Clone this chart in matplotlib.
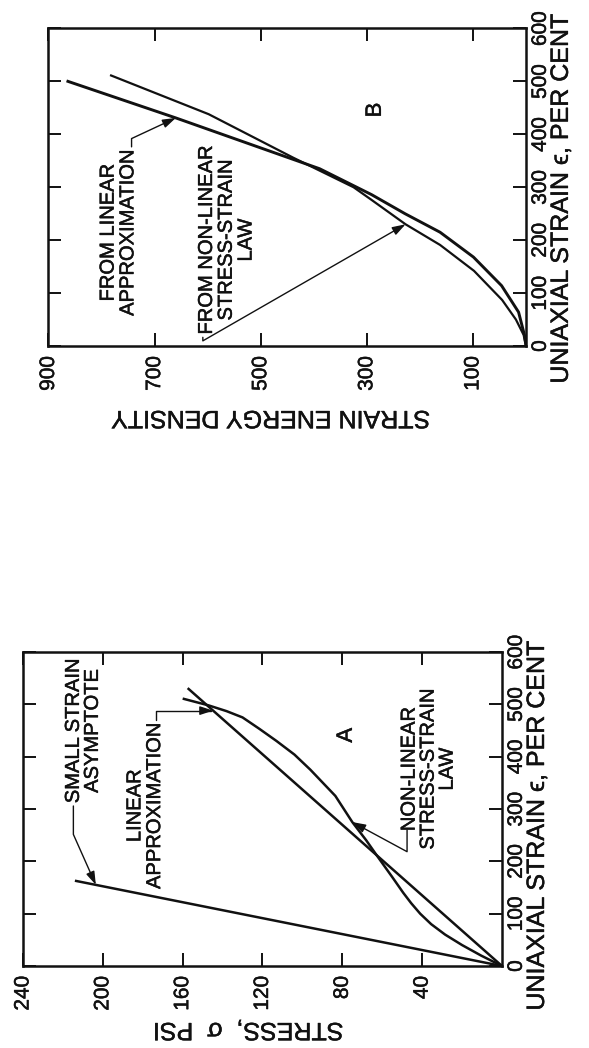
import matplotlib
matplotlib.use("Agg")
import matplotlib.pyplot as plt
import matplotlib.patheffects as pe
from matplotlib.text import Text

plt.rcParams['font.family'] = ['Liberation Sans', 'DejaVu Sans']
plt.rcParams['axes.linewidth'] = 1.8

# ---- axis ticks ----
strain_ticks = [0, 100, 200, 300, 400, 500, 600]
stress_ticks = [40, 80, 120, 160, 200, 240]
energy_ticks = [100, 300, 500, 700, 900]

# ---- panel A: stress (psi) vs uniaxial strain (per cent) ----
asym_strain = [0, 163]
asym_stress = [0, 214]

lin_strain = [0, 531]
lin_stress = [0, 157.5]

nl_strain = [0, 20, 40, 60, 80, 100, 120, 140, 170, 210, 240, 275, 325,
             375, 404, 430, 453, 475, 487, 498, 511]
nl_stress = [0, 10.5, 20, 28.5, 35.5, 41, 45.5, 49.5, 55, 62.5, 68, 75, 83.5,
             96, 104, 113, 121.5, 130, 138, 147, 160]

# ---- panel B: strain energy density vs uniaxial strain (per cent) ----
lin_e_strain = [0, 21, 64, 114, 168, 215, 250, 286, 335, 431, 501]
lin_energy = [0, 3, 14, 46, 99, 162, 228, 291, 389, 660, 866]

nl_e_strain = [0, 21, 50, 87, 142, 191, 230, 276, 300, 356, 438, 512]
nl_energy = [0, 4.5, 19, 45, 98, 162, 227, 291, 325, 439, 598, 784]

LW = 1.8
TICK_FS = 15
LABEL_FS = 18
NOTE_FS = 14.5
INK = '#111111'

fig = plt.figure(figsize=(5.89, 10.48), dpi=100)
ax_b = fig.add_axes([0.08234, 0.66985, 0.81070, 0.30296])
ax_a = fig.add_axes([0.03905, 0.07824, 0.81324, 0.29962])


def style_axes(ax, xticks, xmax):
    # horizontal axis runs from high to low, vertical axis is strain
    ax.set_xlim(xmax, 0)
    ax.set_ylim(0, 600)
    ax.set_xticks(xticks, labels=[str(t) for t in xticks], rotation=90,
                  ha='center', va='top', fontsize=TICK_FS)
    ax.set_yticks(strain_ticks, labels=[str(t) for t in strain_ticks],
                  rotation=90, ha='left', va='center', fontsize=TICK_FS)
    ax.tick_params(axis='both', which='both', direction='in', length=9.5,
                   width=1.4, top=True, bottom=True, left=True, right=True,
                   colors=INK)
    ax.tick_params(axis='x', pad=7, labelbottom=True, labeltop=False)
    ax.tick_params(axis='y', pad=3.5, labelleft=False, labelright=True)
    ax.yaxis.set_label_position('right')
    ax.set_ylabel("UNIAXIAL STRAIN \u03f5, PER CENT", rotation=90,
                  fontsize=LABEL_FS, ha='center', va='center')
    for s in ax.spines.values():
        s.set_color(INK)


def arrow(conn, relpos):
    return dict(arrowstyle='-|>,head_length=0.55,head_width=0.18',
                connectionstyle=conn, relpos=relpos, patchA=None,
                shrinkA=2, shrinkB=0, lw=1.0, color=INK)


# ---------------- panel A ----------------
style_axes(ax_a, stress_ticks, 240)
ax_a.yaxis.set_label_coords(1.073, 0.446)
ax_a.set_xlabel("STRESS,  \u03c3  PSI", rotation=180, fontsize=LABEL_FS,
                ha='center', va='center')
ax_a.xaxis.set_label_coords(0.47, -0.204)

ax_a.plot(asym_stress, asym_strain, color=INK, lw=LW, solid_capstyle='butt')
ax_a.plot(lin_stress, lin_strain, color=INK, lw=LW, solid_capstyle='butt')
ax_a.plot(nl_stress, nl_strain, color=INK, lw=LW, solid_capstyle='butt',
          solid_joinstyle='round')

ax_a.annotate("SMALL STRAIN\nASYMPTOTE", xy=(203.5, 155), xytext=(210, 449),
              textcoords='data', rotation=90, ha='center', va='center',
              multialignment='center', fontsize=NOTE_FS, linespacing=1.0,
              arrowprops=arrow('angle,angleA=90,angleB=-66,rad=0', (0.25, 0.0)))
ax_a.annotate("LINEAR\nAPPROXIMATION", xy=(144.7, 488), xytext=(179, 306),
              textcoords='data', rotation=90, ha='center', va='center',
              multialignment='center', fontsize=NOTE_FS, linespacing=1.05,
              arrowprops=arrow('angle,angleA=90,angleB=0,rad=0', (0.8, 1.0)))
ax_a.annotate("NON-LINEAR\nSTRESS-STRAIN\nLAW", xy=(75, 275), xytext=(37, 376),
              textcoords='data', rotation=90, ha='center', va='center',
              multialignment='center', fontsize=NOTE_FS, linespacing=1.0,
              arrowprops=arrow('angle,angleA=90,angleB=151.6,rad=0', (0.13, 0.14)))
ax_a.text(78, 441, "A", rotation=90, ha='center', va='center', fontsize=16,
          color=INK)

# ---------------- panel B ----------------
style_axes(ax_b, energy_ticks, 900)
ax_b.yaxis.set_label_coords(1.073, 0.463)
ax_b.set_xlabel("STRAIN ENERGY DENSITY", rotation=180, fontsize=LABEL_FS,
                ha='center', va='center')
ax_b.xaxis.set_label_coords(0.466, -0.227)

ax_b.plot(lin_energy, lin_e_strain, color=INK, lw=LW + 0.3,
          solid_capstyle='butt', solid_joinstyle='round')
ax_b.plot(nl_energy, nl_e_strain, color=INK, lw=LW - 0.2,
          solid_capstyle='butt', solid_joinstyle='round')

ax_b.annotate("FROM LINEAR\nAPPROXIMATION", xy=(660, 431), xytext=(769, 214),
              textcoords='data', rotation=90, ha='center', va='center',
              multialignment='center', fontsize=NOTE_FS, linespacing=1.05,
              arrowprops=arrow('angle,angleA=90,angleB=25,rad=0', (0.85, 1.0)))
ax_b.annotate("FROM NON-LINEAR\nSTRESS-STRAIN\nLAW", xy=(227, 230),
              xytext=(565, 200), textcoords='data', rotation=90, ha='center',
              va='center', multialignment='center', fontsize=NOTE_FS,
              linespacing=1.05,
              arrowprops=arrow('angle,angleA=90,angleB=29.9,rad=0', (0.1, 0.0)))
ax_b.text(284, 446, "B", rotation=90, ha='center', va='center', fontsize=16,
          color=INK)

# slightly heavier lettering, like drafted labels
for t in fig.findobj(Text):
    t.set_color(INK)
    t.set_path_effects([pe.withStroke(linewidth=0.35, foreground=INK)])

fig.savefig("out.png", dpi=100)
